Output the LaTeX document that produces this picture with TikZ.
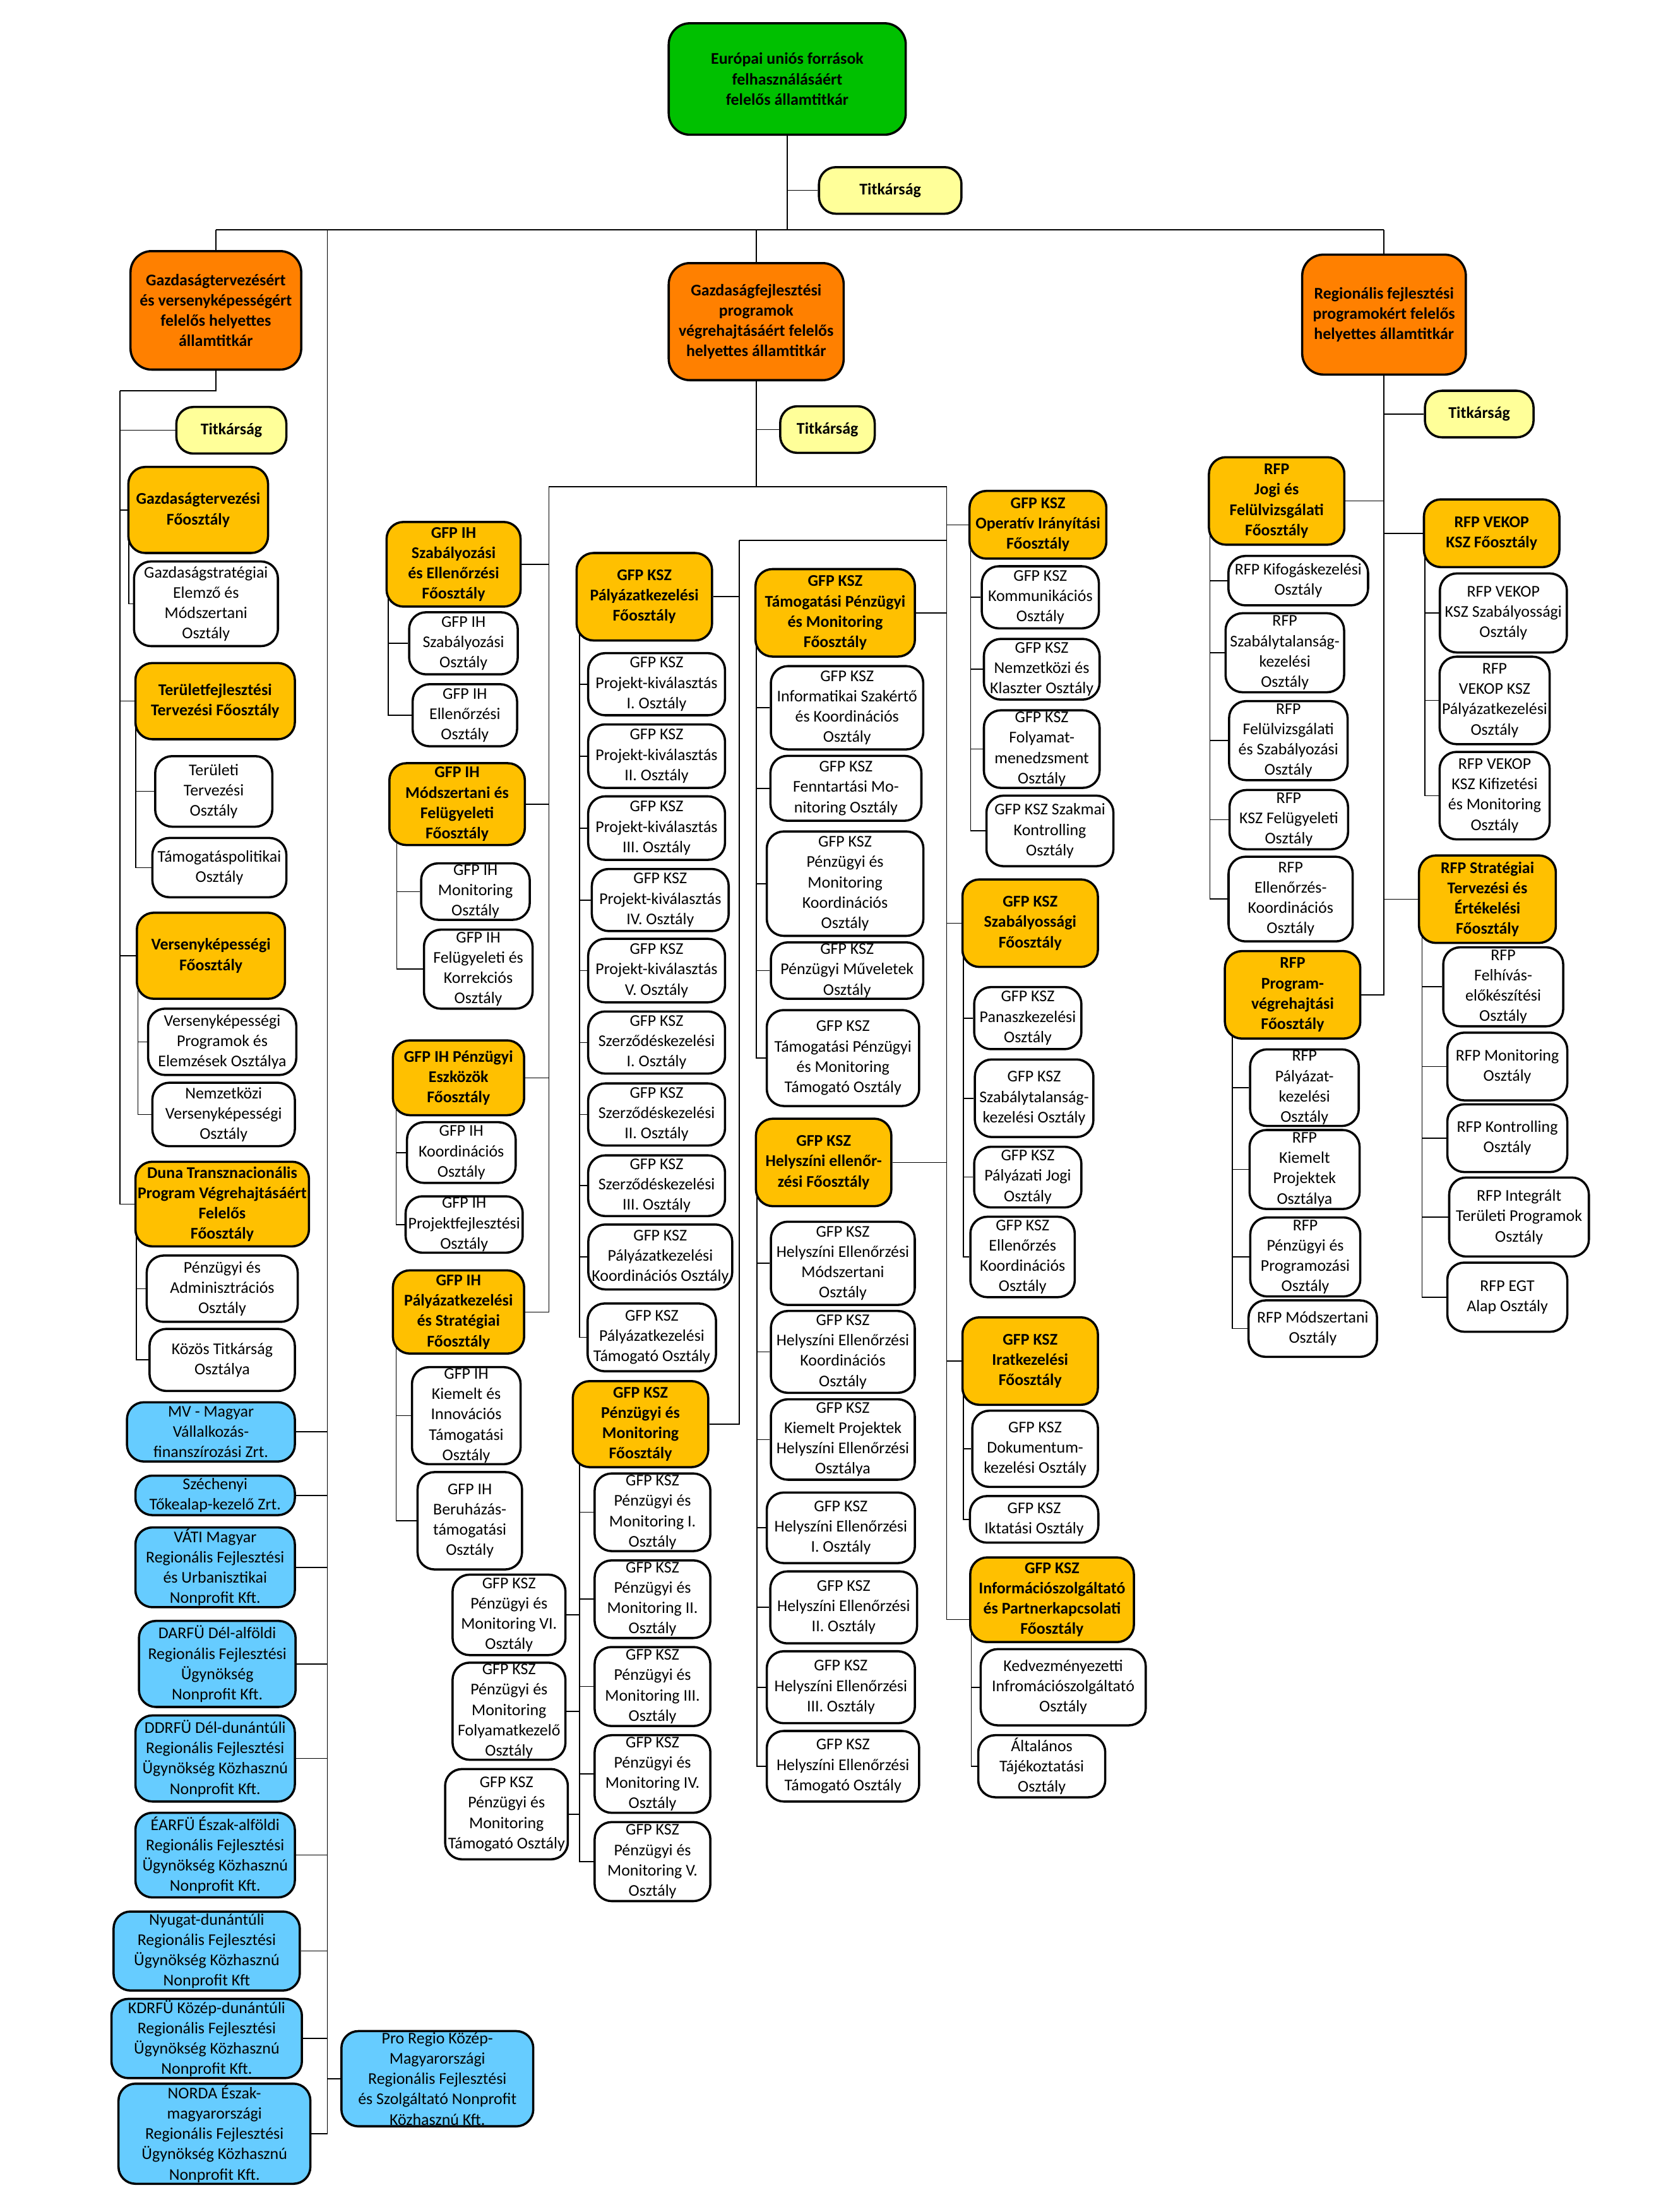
\documentclass[tikz,border=0pt]{standalone}
\usepackage{fontspec}
\setmainfont{Carlito}
\usetikzlibrary{backgrounds}
\definecolor{zold}{RGB}{0,192,0}
\definecolor{narancs}{RGB}{255,128,0}
\definecolor{arany}{RGB}{255,192,0}
\definecolor{sarga}{RGB}{255,255,153}
\definecolor{kek}{RGB}{102,204,255}

\begin{document}
\begin{tikzpicture}[x=0.2mm, y=-0.2mm,
    doboz/.style={rectangle, rounded corners=2.4mm, draw, line width=0.9pt,
                  align=center, inner xsep=0.5pt, inner ysep=0.5pt,
                  font=\fontsize{6.6}{8.2}\selectfont},
    meret/.style 2 args={minimum width=#1*0.2mm, minimum height=#2*0.2mm},
    vezeto/.style={doboz, fill=narancs, rounded corners=3mm, font=\fontsize{6.6}{8.2}\selectfont\bfseries},
    foo/.style={doboz, fill=arany, font=\fontsize{6.6}{8.2}\selectfont\bfseries},
    titkar/.style={doboz, fill=sarga, font=\fontsize{6.6}{8.2}\selectfont\bfseries},
    oszt/.style={doboz, fill=white},
    ceg/.style={doboz, fill=kek},
    vonal/.style={line width=1pt}]
    \useasboundingbox (0,0) rectangle (1177,1568);
    % államtitkár és helyettesek
    \node[doboz, fill=zold, rounded corners=3mm, font=\fontsize{6.6}{8.2}\selectfont\bfseries, meret={168}{79}] (eu) at (558,56) {Európai uniós források\\felhasználásáért\\felelős államtitkár};
    \node[titkar, meret={101}{33}] (tk0) at (631,135) {Titkárság};
    \node[vezeto, meret={121}{84}] (gtv) at (153,220) {Gazdaságtervezésért\\és versenyképességért\\felelős helyettes\\államtitkár};
    \node[vezeto, meret={124}{83}] (gfp) at (536,228) {Gazdaságfejlesztési\\programok\\végrehajtásáért felelős\\helyettes államtitkár};
    \node[vezeto, meret={116}{85}] (rfp) at (981,223) {Regionális fejlesztési\\programokért felelős\\helyettes államtitkár};
    \coordinate (busW) at (153,163);
    \coordinate (busE) at (981,163);
    \coordinate (kekFent) at (232,163);
    \coordinate (balJ) at (85,277);
    \coordinate (ihFent) at (389,345);
    \coordinate (kszFent) at (671,345);
    \coordinate (pkJ) at (524,383);
    % bal oldali ág
    \node[titkar, meret={78}{33}] (tk1) at (164,305) {Titkárság};
    \node[foo, meret={99}{61}] (gt) at (140.5,361.5) {Gazdaságtervezési\\Főosztály};
    \node[oszt, meret={102}{60}] (gt1) at (146,428) {Gazdaságstratégiai\\Elemző és\\Módszertani\\Osztály};
    \node[foo, meret={113}{54}] (tf) at (152.5,497) {Területfejlesztési\\Tervezési Főosztály};
    \node[oszt, meret={83}{50}] (tf1) at (151.5,561) {Területi\\Tervezési\\Osztály};
    \node[oszt, meret={95}{42}] (tf2) at (155.5,615) {Támogatáspolitikai\\Osztály};
    \node[foo, meret={105}{61}] (vk) at (149.5,677.5) {Versenyképességi\\Főosztály};
    \node[oszt, meret={105}{47}] (vk1) at (157.5,738.5) {Versenyképességi\\Programok és\\Elemzések Osztálya};
    \node[oszt, meret={101}{45}] (vk2) at (158.5,790) {Nemzetközi\\Versenyképességi\\Osztály};
    \node[foo, meret={123}{60}] (duna) at (157.5,853.5) {Duna Transznacionális\\Program Végrehajtásáért\\Felelős\\Főosztály};
    \node[oszt, meret={107}{47}] (duna1) at (157.5,913.5) {Pénzügyi és\\Adminisztrációs\\Osztály};
    \node[oszt, meret={103}{44}] (duna2) at (157.5,964) {Közös Titkárság\\Osztálya};
    % társaságok
    \node[ceg, meret={119}{42}] (mv) at (149.5,1015) {MV - Magyar\\Vállalkozás-\\finanszírozási Zrt.};
    \node[ceg, meret={113}{28}] (szech) at (152.5,1060) {Széchenyi\\Tőkealap-kezelő Zrt.};
    \node[ceg, meret={113}{56}] (vati) at (152.5,1111) {VÁTI Magyar\\Regionális Fejlesztési\\és Urbanisztikai\\Nonprofit Kft.};
    \node[ceg, meret={111}{61}] (darfu) at (154,1179.5) {DARFÜ Dél-alföldi\\Regionális Fejlesztési\\Ügynökség\\Nonprofit Kft.};
    \node[ceg, meret={113}{61}] (ddrfu) at (152.5,1246.5) {DDRFÜ Dél-dunántúli\\Regionális Fejlesztési\\Ügynökség Közhasznú\\Nonprofit Kft.};
    \node[ceg, meret={113}{60}] (earfu) at (152.5,1315) {ÉARFÜ Észak-alföldi\\Regionális Fejlesztési\\Ügynökség Közhasznú\\Nonprofit Kft.};
    \node[ceg, meret={132}{56}] (nyrfu) at (146.5,1383) {Nyugat-dunántúli\\Regionális Fejlesztési\\Ügynökség Közhasznú\\Nonprofit Kft};
    \node[ceg, meret={135}{56}] (kdrfu) at (146.5,1445) {KDRFÜ Közép-dunántúli\\Regionális Fejlesztési\\Ügynökség Közhasznú\\Nonprofit Kft.};
    \node[ceg, meret={136}{67}] (norda) at (152,1512.5) {NORDA Észak-\\magyarországi\\Regionális Fejlesztési\\Ügynökség Közhasznú\\Nonprofit Kft.};
    \node[ceg, meret={136}{67}] (proregio) at (310,1473.5) {Pro Regio Közép-\\Magyarországi\\Regionális Fejlesztési\\és Szolgáltató Nonprofit\\Közhasznú Kft.};
    % GFP IH főosztályok
    \node[titkar, meret={67}{33}] (tk2) at (586.5,304.5) {Titkárság};
    \node[foo, meret={95}{60}] (ih1) at (321.5,400) {GFP IH\\Szabályozási\\és Ellenőrzési\\Főosztály};
    \node[oszt, meret={77}{44}] (ih11) at (328.5,456) {GFP IH\\Szabályozási\\Osztály};
    \node[oszt, meret={74}{44}] (ih12) at (329.5,507) {GFP IH\\Ellenőrzési\\Osztály};
    \node[foo, meret={96}{58}] (ih2) at (324,570) {GFP IH\\Módszertani és\\Felügyeleti\\Főosztály};
    \node[oszt, meret={77}{40}] (ih21) at (337,632) {GFP IH\\Monitoring\\Osztály};
    \node[oszt, meret={77}{56}] (ih22) at (339,687) {GFP IH\\Felügyeleti és\\Korrekciós\\Osztály};
    \node[foo, meret={93}{53}] (ih3) at (325,764) {GFP IH Pénzügyi\\Eszközök\\Főosztály};
    \node[oszt, meret={77}{43}] (ih31) at (327,817) {GFP IH\\Koordinációs\\Osztály};
    \node[oszt, meret={83}{40}] (ih32) at (329,868) {GFP IH\\Projektfejlesztési\\Osztály};
    \node[foo, meret={93}{59}] (ih4) at (325,930) {GFP IH\\Pályázatkezelési\\és Stratégiai\\Főosztály};
    \node[oszt, meret={77}{68}] (ih41) at (330.5,1003.5) {GFP IH\\Kiemelt és\\Innovációs\\Támogatási\\Osztály};
    \node[oszt, meret={74}{69}] (ih42) at (333,1078) {GFP IH\\Beruházás-\\támogatási\\Osztály};
    % GFP KSZ pályázatkezelés
    \node[foo, meret={96}{62}] (pk) at (456.7,423) {GFP KSZ\\Pályázatkezelési\\Főosztály};
    \node[oszt, meret={97}{44}] (pk1) at (465.4,485) {GFP KSZ\\Projekt-kiválasztás\\I. Osztály};
    \node[oszt, meret={97}{45}] (pk2) at (465.4,536) {GFP KSZ\\Projekt-kiválasztás\\II. Osztály};
    \node[oszt, meret={97}{45}] (pk3) at (465.4,587) {GFP KSZ\\Projekt-kiválasztás\\III. Osztály};
    \node[oszt, meret={97}{44}] (pk4) at (468,638) {GFP KSZ\\Projekt-kiválasztás\\IV. Osztály};
    \node[oszt, meret={97}{45}] (pk5) at (465.4,688) {GFP KSZ\\Projekt-kiválasztás\\V. Osztály};
    \node[oszt, meret={97}{44}] (pk6) at (465.4,739) {GFP KSZ\\Szerződéskezelési\\I. Osztály};
    \node[oszt, meret={97}{44}] (pk7) at (465.4,790) {GFP KSZ\\Szerződéskezelési\\II. Osztály};
    \node[oszt, meret={97}{43}] (pk8) at (465.4,840.5) {GFP KSZ\\Szerződéskezelési\\III. Osztály};
    \node[oszt, meret={102}{46}] (pk9) at (468,891) {GFP KSZ\\Pályázatkezelési\\Koordinációs Osztály};
    \node[oszt, meret={91}{48}] (pk10) at (462,948) {GFP KSZ\\Pályázatkezelési\\Támogató Osztály};
    % GFP KSZ pénzügy és monitoring
    \node[foo, meret={96}{61}] (pm) at (454,1009.5) {GFP KSZ\\Pénzügyi és\\Monitoring\\Főosztály};
    \node[oszt, meret={82}{55}] (pm1) at (462.5,1072) {GFP KSZ\\Pénzügyi és\\Monitoring I.\\Osztály};
    \node[oszt, meret={82}{55}] (pm2) at (462.5,1133.6) {GFP KSZ\\Pénzügyi és\\Monitoring II.\\Osztály};
    \node[oszt, meret={82}{56}] (pm3) at (462.5,1195.5) {GFP KSZ\\Pénzügyi és\\Monitoring III.\\Osztály};
    \node[oszt, meret={82}{55}] (pm4) at (462.5,1257.5) {GFP KSZ\\Pénzügyi és\\Monitoring IV.\\Osztály};
    \node[oszt, meret={82}{56}] (pm5) at (462.5,1319.6) {GFP KSZ\\Pénzügyi és\\Monitoring V.\\Osztály};
    \node[oszt, meret={80}{57}] (pm6) at (360.8,1144.7) {GFP KSZ\\Pénzügyi és\\Monitoring VI.\\Osztály};
    \node[oszt, meret={80}{68}] (pm7) at (360.8,1213) {GFP KSZ\\Pénzügyi és\\Monitoring\\Folyamatkezelő\\Osztály};
    \node[oszt, meret={87}{64}] (pm8) at (359,1286) {GFP KSZ\\Pénzügyi és\\Monitoring\\Támogató Osztály};
    % GFP KSZ támogatási pénzügy
    \node[foo, meret={113}{62}] (tp) at (592,434.4) {GFP KSZ\\Támogatási Pénzügyi\\és Monitoring\\Főosztály};
    \node[oszt, meret={108}{59}] (tp1) at (600.4,501.7) {GFP KSZ\\Informatikai Szakértő\\és Koordinációs\\Osztály};
    \node[oszt, meret={107}{46}] (tp2) at (599.6,558.8) {GFP KSZ\\Fenntartási Mo-\\nitoring Osztály};
    \node[oszt, meret={111}{74}] (tp3) at (599,626.4) {GFP KSZ\\Pénzügyi és\\Monitoring\\Koordinációs\\Osztály};
    \node[oszt, meret={108}{40}] (tp4) at (600.4,688) {GFP KSZ\\Pénzügyi Műveletek\\Osztály};
    \node[oszt, meret={108}{68}] (tp5) at (597.5,750) {GFP KSZ\\Támogatási Pénzügyi\\és Monitoring\\Támogató Osztály};
    % GFP KSZ helyszíni ellenőrzés
    \node[foo, meret={96}{62}] (he) at (583.8,824) {GFP KSZ\\Helyszíni ellenőr-\\zési Főosztály};
    \node[oszt, meret={102}{59}] (he1) at (597.4,895.5) {GFP KSZ\\Helyszíni Ellenőrzési\\Módszertani\\Osztály};
    \node[oszt, meret={102}{58}] (he2) at (597.4,958.3) {GFP KSZ\\Helyszíni Ellenőrzési\\Koordinációs\\Osztály};
    \node[oszt, meret={102}{57}] (he3) at (597.4,1020.4) {GFP KSZ\\Kiemelt Projektek\\Helyszíni Ellenőrzési\\Osztálya};
    \node[oszt, meret={105}{50}] (he4) at (596,1083) {GFP KSZ\\Helyszíni Ellenőrzési\\I. Osztály};
    \node[oszt, meret={104}{51}] (he5) at (598,1139.4) {GFP KSZ\\Helyszíni Ellenőrzési\\II. Osztály};
    \node[oszt, meret={105}{51}] (he6) at (596,1196) {GFP KSZ\\Helyszíni Ellenőrzési\\III. Osztály};
    \node[oszt, meret={108}{50}] (he7) at (597.5,1252) {GFP KSZ\\Helyszíni Ellenőrzési\\Támogató Osztály};
    % GFP KSZ jobb oldali főosztályok
    \node[foo, meret={97}{48}] (op) at (735.7,372) {GFP KSZ\\Operatív Irányítási\\Főosztály};
    \node[oszt, meret={83}{44}] (op1) at (737.4,423.4) {GFP KSZ\\Kommunikációs\\Osztály};
    \node[oszt, meret={82}{43}] (op2) at (738.4,474.4) {GFP KSZ\\Nemzetközi és\\Klaszter Osztály};
    \node[oszt, meret={82}{55}] (op3) at (738.4,531) {GFP KSZ\\Folyamat-\\menedzsment\\Osztály};
    \node[oszt, meret={90}{50}] (op4) at (744.2,589) {GFP KSZ Szakmai\\Kontrolling\\Osztály};
    \node[foo, meret={96}{62}] (sz) at (730.2,654.4) {GFP KSZ\\Szabályossági\\Főosztály};
    \node[oszt, meret={76}{44}] (sz1) at (728.5,721.7) {GFP KSZ\\Panaszkezelési\\Osztály};
    \node[oszt, meret={84}{55}] (sz2) at (733,778.5) {GFP KSZ\\Szabálytalanság-\\kezelési Osztály};
    \node[oszt, meret={76}{43}] (sz3) at (728.5,834.4) {GFP KSZ\\Pályázati Jogi\\Osztály};
    \node[oszt, meret={74}{57}] (sz4) at (724.8,891) {GFP KSZ\\Ellenőrzés\\Koordinációs\\Osztály};
    \node[foo, meret={96}{62}] (ir) at (730.2,964.8) {GFP KSZ\\Iratkezelési\\Főosztály};
    \node[oszt, meret={89}{54}] (ir1) at (733.7,1027) {GFP KSZ\\Dokumentum-\\kezelési Osztály};
    \node[oszt, meret={91}{33}] (ir2) at (733,1077) {GFP KSZ\\Iktatási Osztály};
    \node[foo, meret={116}{60}] (info) at (745.7,1134) {GFP KSZ\\Információszolgáltató\\és Partnerkapcsolati\\Főosztály};
    \node[oszt, meret={117}{54}] (info1) at (753.6,1196) {Kedvezményezetti\\Infromációszolgáltató\\Osztály};
    \node[oszt, meret={90}{44}] (info2) at (738.4,1252) {Általános\\Tájékoztatási\\Osztály};
    % RFP főosztályok
    \node[titkar, meret={77}{33}] (tk3) at (1048.5,293.5) {Titkárság};
    \node[foo, meret={96}{62}] (jf) at (904.9,355.1) {RFP\\Jogi és\\Felülvizsgálati\\Főosztály};
    \node[oszt, meret={99}{35}] (jf1) at (920.2,411.6) {RFP Kifogáskezelési\\Osztály};
    \node[oszt, meret={84}{56}] (jf2) at (910.7,462.7) {RFP\\Szabálytalanság-\\kezelési\\Osztály};
    \node[oszt, meret={84}{56}] (jf3) at (913.2,525) {RFP\\Felülvizsgálati\\és Szabályozási\\Osztály};
    \node[oszt, meret={84}{42}] (jf4) at (913.5,581) {RFP\\KSZ Felügyeleti\\Osztály};
    \node[oszt, meret={88}{60}] (jf5) at (914.8,637.3) {RFP\\Ellenőrzés-\\Koordinációs\\Osztály};
    \node[foo, meret={96}{48}] (vek) at (1057.3,378) {RFP VEKOP\\KSZ Főosztály};
    \node[oszt, meret={90}{56}] (vek1) at (1065.6,434.5) {RFP VEKOP\\KSZ Szabályossági\\Osztály};
    \node[oszt, meret={78}{62}] (vek2) at (1059.4,496.5) {RFP\\VEKOP KSZ\\Pályázatkezelési\\Osztály};
    \node[oszt, meret={78}{62}] (vek3) at (1059.4,564) {RFP VEKOP\\KSZ Kifizetési\\és Monitoring\\Osztály};
    \node[foo, meret={97}{62}] (st) at (1054.3,637.4) {RFP Stratégiai\\Tervezési és\\Értékelési\\Főosztály};
    \node[oszt, meret={85}{56}] (st1) at (1065.5,699.5) {RFP\\Felhívás-\\előkészítési\\Osztály};
    \node[oszt, meret={85}{48}] (st2) at (1068.4,756) {RFP Monitoring\\Osztály};
    \node[oszt, meret={85}{48}] (st3) at (1068.4,806.8) {RFP Kontrolling\\Osztály};
    \node[oszt, meret={99}{56}] (st4) at (1076.7,862.7) {RFP Integrált\\Területi Programok\\Osztály};
    \node[oszt, meret={85}{49}] (st5) at (1068.4,919.5) {RFP EGT\\Alap Osztály};
    \node[foo, meret={96}{62}] (pv) at (916.2,705.2) {RFP\\Program-\\végrehajtási\\Főosztály};
    \node[oszt, meret={77}{54}] (pv1) at (924.6,771) {RFP\\Pályázat-\\kezelési\\Osztály};
    \node[oszt, meret={78}{56}] (pv2) at (924.7,829) {RFP\\Kiemelt\\Projektek\\Osztálya};
    \node[oszt, meret={78}{56}] (pv3) at (925.2,891) {RFP\\Pénzügyi és\\Programozási\\Osztály};
    \node[oszt, meret={91}{40}] (pv4) at (930.5,941.8) {RFP Módszertani\\Osztály};
    % összekötő vonalak
    \begin{scope}[on background layer, vonal]
    \draw (eu) -- (eu |- busW);
    \draw (tk0.west) -- (tk0.west -| eu);
    \draw (busW) -- (busE);
    \draw (busW) -- (gtv);
    \draw (busE) -- (rfp);
    \draw (gfp |- busW) -- (gfp);
    % bal ág
    \draw (gtv) |- (balJ);
    \draw (balJ) |- (duna.west);
    \draw (tk1.west) -- (tk1.west -| balJ);
    \draw (gt.west) -- (gt.west -| balJ);
    \draw (tf.west) -- (tf.west -| balJ);
    \draw (vk.west) -- (vk.west -| balJ);
    \draw ([xshift=0.2mm]gt.west) |- (gt1.west);
    \draw ([xshift=0.2mm]tf.west) |- (tf1.west);
    \draw ([xshift=0.2mm]tf.west) |- (tf2.west);
    \draw ([xshift=0.3mm]vk.west) |- (vk1.west);
    \draw ([xshift=0.3mm]vk.west) |- (vk2.west);
    \draw ([xshift=0.3mm]duna.west) |- (duna1.west);
    \draw ([xshift=0.3mm]duna.west) |- (duna2.west);
    % társaságok
    \draw (kekFent) |- (norda.east);
    \draw (mv.east) -- (mv.east -| kekFent);
    \draw (szech.east) -- (szech.east -| kekFent);
    \draw (vati.east) -- (vati.east -| kekFent);
    \draw (darfu.east) -- (darfu.east -| kekFent);
    \draw (ddrfu.east) -- (ddrfu.east -| kekFent);
    \draw (earfu.east) -- (earfu.east -| kekFent);
    \draw (nyrfu.east) -- (nyrfu.east -| kekFent);
    \draw (kdrfu.east) -- (kdrfu.east -| kekFent);
    \draw (proregio.west) -- (proregio.west -| kekFent);
    % középső ág
    \draw (gfp) -- (gfp |- ihFent);
    \draw (tk2.west) -- (tk2.west -| gfp);
    \draw (ihFent) -- (kszFent);
    \draw (ihFent) |- (ih4.east);
    \draw (ih1.east) -- (ih1.east -| ihFent);
    \draw (ih2.east) -- (ih2.east -| ihFent);
    \draw (ih3.east) -- (ih3.east -| ihFent);
    \draw ([xshift=0.4mm]ih1.west) |- (ih11.west);
    \draw ([xshift=0.4mm]ih1.west) |- (ih12.west);
    \draw ([xshift=1.2mm]ih2.west) |- (ih21.west);
    \draw ([xshift=1.2mm]ih2.west) |- (ih22.west);
    \draw ([xshift=0.6mm]ih3.west) |- (ih31.west);
    \draw ([xshift=0.6mm]ih3.west) |- (ih32.west);
    \draw ([xshift=0.6mm]ih4.west) |- (ih41.west);
    \draw ([xshift=0.6mm]ih4.west) |- (ih42.west);
    \draw (pkJ) -- (pkJ -| kszFent);
    \draw (pkJ) |- (pm.east);
    \draw (pk.east) -- (pk.east -| pkJ);
    \draw ([xshift=0.6mm]pk.west) |- (pk1.west);
    \draw ([xshift=0.6mm]pk.west) |- (pk2.west);
    \draw ([xshift=0.6mm]pk.west) |- (pk3.west);
    \draw ([xshift=0.6mm]pk.west) |- (pk4.west);
    \draw ([xshift=0.6mm]pk.west) |- (pk5.west);
    \draw ([xshift=0.6mm]pk.west) |- (pk6.west);
    \draw ([xshift=0.6mm]pk.west) |- (pk7.west);
    \draw ([xshift=0.6mm]pk.west) |- (pk8.west);
    \draw ([xshift=0.6mm]pk.west) |- (pk9.west);
    \draw ([xshift=0.6mm]pk.west) |- (pk10.west);
    \draw ([xshift=1.1mm]pm.west) |- (pm1.west);
    \draw ([xshift=1.1mm]pm.west) |- (pm2.west);
    \draw ([xshift=1.1mm]pm.west) |- (pm3.west);
    \draw ([xshift=1.1mm]pm.west) |- (pm4.west);
    \draw ([xshift=1.1mm]pm.west) |- (pm5.west);
    \draw ([xshift=1.1mm]pm.west) |- (pm6.east);
    \draw ([xshift=1.1mm]pm.west) |- (pm7.east);
    \draw ([xshift=1.1mm]pm.west) |- (pm8.east);
    \draw (kszFent) |- ([yshift=-8pt]info.west);
    \draw (op.west) -- (op.west -| kszFent);
    \draw (sz.west) -- (sz.west -| kszFent);
    \draw (ir.west) -- (ir.west -| kszFent);
    \draw (tp.east) -- (tp.east -| kszFent);
    \draw (he.east) -- (he.east -| kszFent);
    \draw ([xshift=0.3mm]tp.west) |- (tp1.west);
    \draw ([xshift=0.3mm]tp.west) |- (tp2.west);
    \draw ([xshift=0.3mm]tp.west) |- (tp3.west);
    \draw ([xshift=0.3mm]tp.west) |- (tp4.west);
    \draw ([xshift=0.3mm]tp.west) |- (tp5.west);
    \draw ([xshift=0.3mm]he.west) |- (he1.west);
    \draw ([xshift=0.3mm]he.west) |- (he2.west);
    \draw ([xshift=0.3mm]he.west) |- (he3.west);
    \draw ([xshift=0.3mm]he.west) |- (he4.west);
    \draw ([xshift=0.3mm]he.west) |- (he5.west);
    \draw ([xshift=0.3mm]he.west) |- (he6.west);
    \draw ([xshift=0.3mm]he.west) |- (he7.west);
    \draw ([xshift=0.3mm]op.west) |- (op1.west);
    \draw ([xshift=0.3mm]op.west) |- (op2.west);
    \draw ([xshift=0.3mm]op.west) |- (op3.west);
    \draw ([xshift=0.3mm]op.west) |- (op4.west);
    \draw ([xshift=0.3mm]sz.west) |- (sz1.west);
    \draw ([xshift=0.3mm]sz.west) |- (sz2.west);
    \draw ([xshift=0.3mm]sz.west) |- (sz3.west);
    \draw ([xshift=0.3mm]sz.west) |- (sz4.west);
    \draw ([xshift=0.3mm]ir.west) |- (ir1.west);
    \draw ([xshift=0.3mm]ir.west) |- (ir2.west);
    \draw ([xshift=0.3mm]info.west) |- (info1.west);
    \draw ([xshift=0.3mm]info.west) |- (info2.west);
    % jobb ág
    \draw (rfp) |- (pv.east);
    \draw (tk3.west) -- (tk3.west -| rfp);
    \draw (jf.east) -- (jf.east -| rfp);
    \draw (vek.west) -- (vek.west -| rfp);
    \draw (st.west) -- (st.west -| rfp);
    \draw ([xshift=0.3mm]jf.west) |- (jf1.west);
    \draw ([xshift=0.3mm]jf.west) |- (jf2.west);
    \draw ([xshift=0.3mm]jf.west) |- (jf3.west);
    \draw ([xshift=0.3mm]jf.west) |- (jf4.west);
    \draw ([xshift=0.3mm]jf.west) |- (jf5.west);
    \draw ([xshift=0.3mm]vek.west) |- (vek1.west);
    \draw ([xshift=0.3mm]vek.west) |- (vek2.west);
    \draw ([xshift=0.3mm]vek.west) |- (vek3.west);
    \draw ([xshift=0.6mm]st.west) |- (st1.west);
    \draw ([xshift=0.6mm]st.west) |- (st2.west);
    \draw ([xshift=0.6mm]st.west) |- (st3.west);
    \draw ([xshift=0.6mm]st.west) |- (st4.west);
    \draw ([xshift=0.6mm]st.west) |- (st5.west);
    \draw ([xshift=1.2mm]pv.west) |- (pv1.west);
    \draw ([xshift=1.2mm]pv.west) |- (pv2.west);
    \draw ([xshift=1.2mm]pv.west) |- (pv3.west);
    \draw ([xshift=1.2mm]pv.west) |- (pv4.west);
    \end{scope}
  \end{tikzpicture}
\end{document}
